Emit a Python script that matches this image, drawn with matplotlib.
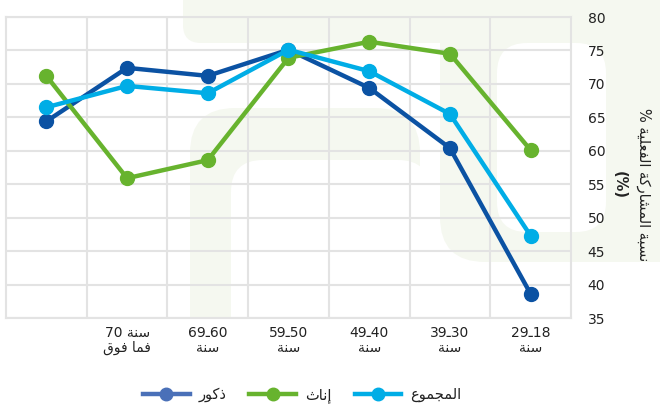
import matplotlib
matplotlib.use("Agg")
import matplotlib.pyplot as plt
from matplotlib.lines import Line2D
from matplotlib.patches import FancyBboxPatch

# Data (left to right)
age_line1 = ["", "70 ", "69\u064060", "59\u064050", "49\u064040", "39\u064030", "29\u064018"]
age_line2 = ["", "فما فوق", "سنة", "سنة", "سنة", "سنة", "سنة"]
males = [64.4, 72.4, 71.2, 75.1, 69.4, 60.4, 38.6]
females = [71.2, 55.9, 58.6, 73.9, 76.3, 74.5, 60.1]
total = [66.5, 69.7, 68.6, 75.1, 71.9, 65.5, 47.3]
series_names = ["ذكور", "إناث", "المجموع"]
y_label = "نسبة المشاركة الفعلية %"

C_MALE = "#0b52a3"
C_MALE_LEG = "#4a70b8"
C_FEMALE = "#67b32e"
C_TOTAL = "#00ade6"
GRID = "#e3e3e3"
PALE = "#f5f8f0"

# Arabic presentation forms: letter -> (isolated code, number of forms)
FORMS = {
    'ا': (0xFE8D, 2), 'أ': (0xFE83, 2), 'إ': (0xFE87, 2), 'ب': (0xFE8F, 4),
    'ة': (0xFE93, 2), 'ت': (0xFE95, 4), 'ث': (0xFE99, 4), 'ج': (0xFE9D, 4),
    'ح': (0xFEA1, 4), 'د': (0xFEA9, 2), 'ذ': (0xFEAB, 2), 'ر': (0xFEAD, 2),
    'ز': (0xFEAF, 2), 'س': (0xFEB1, 4), 'ش': (0xFEB5, 4), 'ص': (0xFEB9, 4),
    'ط': (0xFEC1, 4), 'ع': (0xFEC9, 4), 'ف': (0xFED1, 4), 'ق': (0xFED5, 4),
    'ك': (0xFED9, 4), 'ل': (0xFEDD, 4), 'م': (0xFEE1, 4), 'ن': (0xFEE5, 4),
    'ه': (0xFEE9, 4), 'و': (0xFEED, 2), 'ي': (0xFEF1, 4),
}


def rtl(text):
    # join letters and put them in visual (left to right) order
    out = []
    for i, ch in enumerate(text):
        if ch not in FORMS:
            out.append(ch)
            continue
        base, n = FORMS[ch]
        prev = text[i - 1] if i > 0 else ''
        nxt = text[i + 1] if i + 1 < len(text) else ''
        joins_prev = prev in FORMS and FORMS[prev][1] == 4
        joins_next = n == 4 and nxt in FORMS
        if joins_prev and joins_next:
            off = 3
        elif joins_next:
            off = 2
        elif joins_prev:
            off = 1
        else:
            off = 0
        out.append(chr(base + off))
    return ''.join(out)[::-1]


fig = plt.figure(figsize=(6.6, 4.05), dpi=100)

# pale logo shapes in the background (pixel coords -> inches)
def pale_box(x0, y0, x1, y1, r, color):
    p = FancyBboxPatch((x0 / 100, (405 - y1) / 100), (x1 - x0) / 100, (y1 - y0) / 100,
                       boxstyle=f"round,pad=0,rounding_size={r / 100}",
                       transform=fig.dpi_scale_trans, facecolor=color,
                       edgecolor="none", zorder=-2)
    fig.add_artist(p)

pale_box(183, -60, 460, 43, 18, PALE)
pale_box(440, -60, 760, 262, 45, PALE)
pale_box(497, 43, 606, 232, 30, "white")
pale_box(190, 108, 420, 360, 45, PALE)
pale_box(231, 160, 430, 360, 32, "white")
pale_box(185, 319, 440, 405, 0, "white")

ax = fig.add_axes([6 / 660, 1 - 318 / 405, 565 / 660, 301 / 405])
ax.patch.set_alpha(0)

x = list(range(len(males)))
lw, ms = 3.2, 10
ax.plot(x, males, color=C_MALE, lw=lw, marker="o", ms=ms, zorder=3)
ax.plot(x, females, color=C_FEMALE, lw=lw, marker="o", ms=ms, zorder=3)
ax.plot(x, total, color=C_TOTAL, lw=lw, marker="o", ms=ms, zorder=4)

ax.set_xlim(-0.5, len(x) - 0.5)
ax.set_ylim(35, 80)
ax.set_yticks(range(35, 81, 5))
ax.yaxis.tick_right()
ax.tick_params(axis="y", length=0, pad=12, labelsize=10, labelcolor="#222222")

labels = []
for a, b in zip(age_line1, age_line2):
    if a == "":
        labels.append("")
    elif a.startswith("70"):
        labels.append(a + rtl("سنة") + "\n" + rtl(b))
    else:
        labels.append(a + "\n" + rtl(b))
ax.set_xticks(x)
ax.set_xticklabels(labels, fontsize=10, color="#222222", linespacing=1.05)
ax.set_xticks([i - 0.5 for i in range(1, len(x))], minor=True)
ax.tick_params(axis="x", which="both", length=0, pad=6)

ax.grid(True, which="minor", axis="x", color=GRID, lw=1.5)
ax.grid(True, which="major", axis="y", color=GRID, lw=1.5)
ax.set_axisbelow(True)
for s in ax.spines.values():
    s.set_color(GRID)
    s.set_linewidth(1.5)

fig.text(644 / 660, 1 - 185 / 405, rtl(y_label), rotation=270,
         ha="center", va="center", fontsize=10.5, color="#222222")
fig.text(619 / 660, 1 - 185 / 405, "(%)", rotation=270,
         ha="center", va="center", fontsize=10.5, fontweight="bold", color="#222222")

handles = [Line2D([], [], color=c, lw=lw, marker="o", ms=ms - 1)
           for c in (C_MALE_LEG, C_FEMALE, C_TOTAL)]
fig.legend(handles, [rtl(n) for n in series_names], loc="center",
           bbox_to_anchor=(302 / 660, 1 - 395 / 405), ncol=3, frameon=False,
           fontsize=10.5, handlelength=3.2, handletextpad=0.6, columnspacing=1.6,
           labelcolor="#222222")

fig.savefig("out.png", dpi=100)
